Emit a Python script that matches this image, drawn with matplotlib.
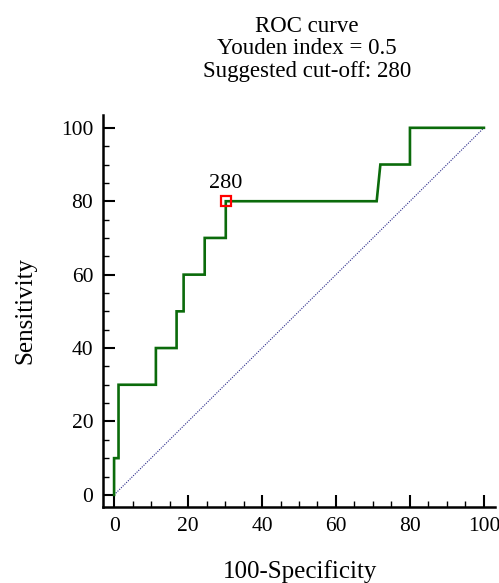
import matplotlib
matplotlib.use("Agg")
import matplotlib.pyplot as plt
from matplotlib.ticker import MultipleLocator

plt.rcParams['font.family'] = ['Liberation Serif', 'DejaVu Serif']

# ROC curve vertices (100-Specificity, Sensitivity)
fpr = [0, 0, 1.2, 1.2, 11.3, 11.3, 16.9, 16.9, 18.8, 18.8, 24.5, 24.5,
       30.2, 30.2, 71.0, 72.0, 80.0, 80.0, 100]
tpr = [0, 10, 10, 30, 30, 40, 40, 50, 50, 60, 60, 70,
       70, 80, 80, 90, 90, 100, 100]

cutoff_x = 30.2
cutoff_y = 80
cutoff_label = "280"

title_lines = ["ROC curve", "Youden index = 0.5", "Suggested cut-off: 280"]
x_label = "100-Specificity"
y_label = "Sensitivity"
ticks = [0, 20, 40, 60, 80, 100]

fig = plt.figure(figsize=(4.99, 5.83), dpi=100)
ax = fig.add_axes([0.2064, 0.1304, 0.7856, 0.6724])

ax.plot([0, 100], [0, 100], color='#2a2a8a', lw=0.8, ls=(0, (1, 1.2)))
ax.plot(fpr, tpr, color='#0b6b0b', lw=1.9, solid_joinstyle='miter')
ax.plot([cutoff_x], [cutoff_y], marker='s', ms=7, mfc='none', mec='#ff0000', mew=1.6)
ax.annotate(cutoff_label, (cutoff_x, cutoff_y), xytext=(0, 6), textcoords='offset points',
            ha='center', va='bottom', fontsize=16)

ax.set_xlim(-3, 103)
ax.set_ylim(-3.3, 103.5)
ax.set_xticks(ticks)
ax.set_yticks(ticks)
ax.xaxis.set_minor_locator(MultipleLocator(5))
ax.yaxis.set_minor_locator(MultipleLocator(5))
ax.tick_params(which='major', direction='in', length=8.5, width=1.5, labelsize=15.5, pad=7)
ax.tick_params(which='minor', direction='in', length=4, width=1.0)

for s in ['top', 'right']:
    ax.spines[s].set_visible(False)
for s in ['left', 'bottom']:
    ax.spines[s].set_linewidth(1.8)

ax.set_xlabel(x_label, fontsize=18)
ax.xaxis.set_label_coords((300 - 103) / 392, -0.135)
ax.set_ylabel(y_label, fontsize=18)
ax.yaxis.set_label_coords(-0.17, 0.5)

for i, line in enumerate(title_lines):
    fig.text(307 / 499, 1 - (26 + 22.5 * i) / 583, line, ha='center', va='center', fontsize=16.5)

fig.savefig('out.png', dpi=100)
